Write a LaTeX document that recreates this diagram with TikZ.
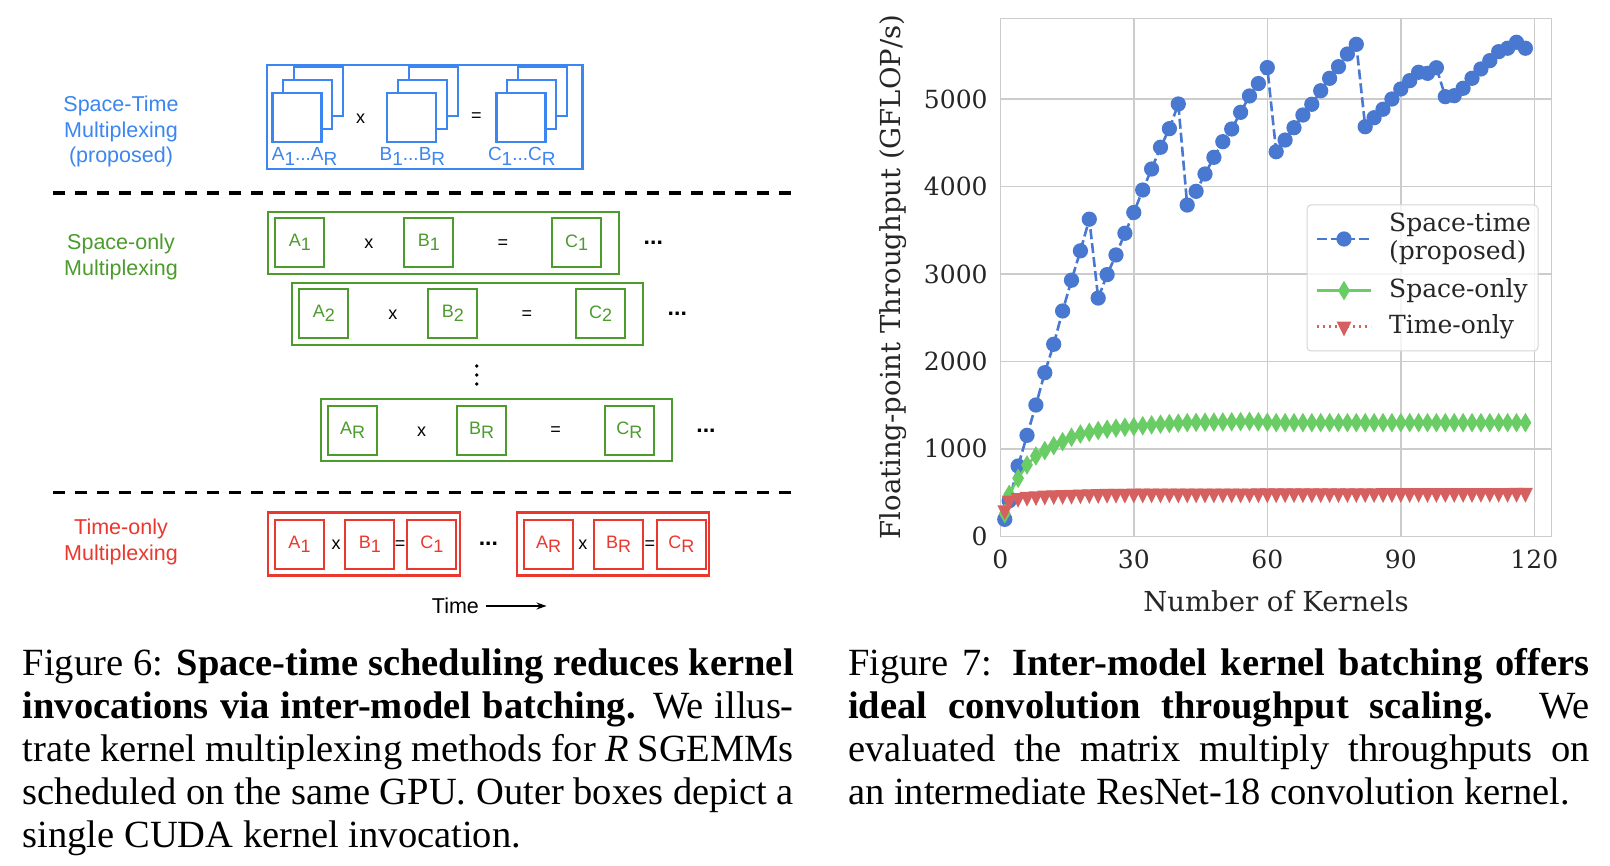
\documentclass[tikz,border=0pt]{standalone}
\usepackage{fontspec}
\setmainfont{Liberation Serif}
\setsansfont{Liberation Sans}
\newfontfamily\plotfont{DejaVu Serif}
\usetikzlibrary{arrows.meta}
\usetikzlibrary{plotmarks}

\definecolor{stblue}{RGB}{59,134,240}
\definecolor{sogreen}{RGB}{75,155,45}
\definecolor{tored}{RGB}{235,55,45}
\definecolor{pltblue}{HTML}{4878D0}
\definecolor{pltgreen}{HTML}{6ACC64}
\definecolor{pltred}{HTML}{D65F5F}
\definecolor{gridgray}{HTML}{CCCCCC}
\definecolor{txtgray}{HTML}{262626}

\newcommand{\lowsub}[1]{\raisebox{-0.22em}{#1}}

\tikzset{
  gemm/.style={draw, line width=2.2pt, minimum size=49pt, inner sep=0pt, font=\sffamily\fontsize{18}{18}\selectfont},
  opsign/.style={inner sep=0pt, font=\sffamily\fontsize{18}{18}\selectfont},
  dotsign/.style={inner sep=0pt, font=\sffamily\bfseries\fontsize{23}{23}\selectfont},
  sidelbl/.style={align=center, inner sep=2pt, font=\sffamily\fontsize{21.5}{25.7}\selectfont},
  divider/.style={line width=3.6pt, dash pattern=on 12pt off 10pt},
  gridline/.style={draw=gridgray, line width=1.6pt},
  ticklbl/.style={inner sep=0pt, text=txtgray, font=\plotfont\fontsize{25}{25}\selectfont},
  axlbl/.style={inner sep=0pt, text=txtgray, font=\plotfont\fontsize{27.5}{27.5}\selectfont},
  stline/.style={pltblue, line width=2.6pt, dash pattern=on 10pt off 4pt, mark=*, mark size=6.3pt,
    mark options={solid, fill=pltblue, draw=pltblue}},
  soline/.style={pltgreen, line width=2.4pt, mark=diamond*, mark size=7.5pt,
    mark options={solid, xscale=0.8, fill=pltgreen, draw=pltgreen}},
  toline/.style={pltred, line width=2.4pt, dash pattern=on 2.4pt off 3.6pt, mark=triangle*, mark size=6.3pt,
    mark options={solid, rotate=180, yscale=1.15, fill=pltred, draw=pltred}},
  capt/.style={inner sep=0pt, anchor=base west, align=justify, font=\fontsize{38.5}{43.1}\selectfont}
}

\begin{document}
\begin{tikzpicture}[x=1pt, y=-1pt]
  \fill[white] (0,0) rectangle (1610,866);
  \useasboundingbox (0,0) rectangle (1610,866);

  % space-time
  \node[sidelbl, text=stblue] (stlbl) at (121,131.5) {Space-Time\\Multiplexing\\(proposed)};
  \draw[stblue, line width=2.2pt] (266.7,65) rectangle (582.5,169);
  \foreach \cx/\lx/\n in {297/304.6/A, 411.8/412.4/B, 520.9/521.8/C} {
    \draw[stblue, line width=2.2pt, fill=white] (\cx-2.9,67.3) rectangle ++(49,49);
    \draw[stblue, line width=2.2pt, fill=white] (\cx-13.7,80) rectangle ++(49,49);
    \node[gemm, stblue, fill=white] (st\n) at (\cx,117.2) {};
    \node[opsign, text=stblue, anchor=base, font=\sffamily\fontsize{19}{19}\selectfont] (st\n lbl) at (\lx,161)
      {\n\lowsub{1}...\n\lowsub{R}};
  }
  \node[opsign] (stx) at (360.5,118.3) {x};
  \node[opsign] (steq) at (476.5,116.7) {=};

  \coordinate (d1a) at (53.4,193);
  \coordinate (d1b) at (792.7,193);
  \draw[divider] (d1a) -- (d1b);

  % space-only
  \node[sidelbl, text=sogreen] (solbl) at (121,256.7) {Space-only\\Multiplexing};
  \foreach \rx/\ry/\s in {268.3/211.7/1, 292.3/282.7/2, 321/399.3/R} {
    \draw[sogreen, line width=2.2pt] (\rx,\ry) rectangle ++(351,62);
    \node[gemm, sogreen] (A\s) at (\rx+31.5,\ry+31) {A\lowsub{\s}};
    \node[gemm, sogreen] (B\s) at (\rx+160.5,\ry+31) {B\lowsub{\s}};
    \node[gemm, sogreen] (C\s) at (\rx+308.3,\ry+31) {C\lowsub{\s}};
    \node[opsign] (x\s) at (\rx+100.5,\ry+32) {x};
    \node[opsign] (eq\s) at (\rx+234.5,\ry+32) {=};
    \node[dotsign] (dots\s) at (\rx+385,\ry+31) {...};
  }
  \foreach \vy in {366,375,384}
    \fill (476.7,\vy) circle (1.8pt);

  \coordinate (d2a) at (53.4,492.7);
  \coordinate (d2b) at (792.7,492.7);
  \draw[divider] (d2a) -- (d2b);

  % time-only
  \node[sidelbl, text=tored] (tolbl) at (121,542) {Time-only\\Multiplexing};
  \draw[tored, line width=2.2pt] (267.6,512.5) rectangle (460,575.5);
  \draw[tored, line width=2.2pt] (516.8,512.5) rectangle (709.3,575.5);
  \node[gemm, tored] (tA1) at (299.5,544.3) {A\lowsub{1}};
  \node[gemm, tored] (tB1) at (369.8,544.3) {B\lowsub{1}};
  \node[gemm, tored] (tC1) at (431.8,544.3) {C\lowsub{1}};
  \node[gemm, tored] (tAR) at (548.6,544.3) {A\lowsub{R}};
  \node[gemm, tored] (tBR) at (618.5,544.3) {B\lowsub{R}};
  \node[gemm, tored] (tCR) at (681.3,544.3) {C\lowsub{R}};
  \node[opsign] (tx1) at (336,545) {x};
  \node[opsign] (teq1) at (400.2,545) {=};
  \node[opsign] (txR) at (582.8,545) {x};
  \node[opsign] (teqR) at (649.8,545) {=};
  \node[dotsign] (tdots) at (488.4,544) {...};

  \node[sidelbl] (timelbl) at (455.4,606) {Time};
  \coordinate (tend) at (546.5,606);
  \draw[-{Stealth[length=10pt, width=7pt]}, line width=1.3pt] ([xshift=5pt]timelbl.east) -- (tend);

  % throughput plot
  \begin{scope}[xshift=1000.3pt, yshift=-536.3pt, x=4.45pt, y=0.0874pt]
    \foreach \gx in {0,30,...,120}
      \draw[gridline] (\gx,0) -- (\gx,5924);
    \foreach \gy in {0,1000,...,5000}
      \draw[gridline] (0,\gy) -- (123.85,\gy);
    \draw[gridline] (0,0) rectangle (123.85,5924);
    \foreach \gx in {0,30,...,120}
      \node[ticklbl, anchor=base, yshift=-32.4pt] (xt\gx) at (\gx,0) {\gx};
    \foreach \gy in {0,1000,...,5000}
      \node[ticklbl, anchor=east, xshift=-12.5pt] (yt\gy) at (0,\gy) {\gy};

    \draw[stline] plot coordinates {(1,194) (2,407) (4,804) (6,1155) (8,1502) (10,1872) (12,2197) (14,2578)
      (16,2930) (18,3266) (20,3628) (22,2726) (24,2994) (26,3219) (28,3467) (30,3705) (32,3962) (34,4202)
      (36,4451) (38,4664) (40,4946) (42,3790) (44,3947) (46,4145) (48,4336) (50,4515) (52,4660) (54,4851)
      (56,5038) (58,5180) (60,5363) (62,4400) (64,4534) (66,4675) (68,4820) (70,4943) (72,5098) (74,5240)
      (76,5373) (78,5518) (80,5629) (82,4686) (84,4789) (86,4886) (88,5003) (90,5118) (92,5213) (94,5309)
      (96,5297) (98,5361) (100,5030) (102,5041) (104,5126) (106,5240) (108,5347) (110,5442) (112,5545)
      (114,5584) (116,5652) (118,5584)};
    \draw[soline] plot coordinates {(1,260) (2,480) (4,664) (6,816) (8,919) (10,980) (12,1037) (14,1083)
      (16,1133) (18,1170) (20,1190) (22,1210) (24,1225) (26,1238) (28,1248) (30,1255) (32,1265) (34,1275)
      (36,1283) (38,1290) (40,1295) (42,1300) (44,1303) (46,1305) (48,1307) (50,1308) (52,1310) (54,1312)
      (56,1315) (58,1310) (60,1305)} -- plot[domain=62:118, samples=29] (\x,1300);
    \draw[toline] plot coordinates {(1,300) (2,410) (4,440) (6,452) (8,460) (10,466) (12,470) (14,474)
      (16,477) (18,480) (20,482) (22,484) (24,486) (26,487) (28,488)}
      -- plot[domain=30:118, samples=45] (\x,{489+0.1*(\x-30)});
  \end{scope}

  \node[axlbl, rotate=90] (ylab) at (893,277) {Floating-point Throughput (GFLOP/s)};
  \node[axlbl] (xlab) at (1276,601) {Number of Kernels};

  % legend
  \draw[draw=gridgray!80, fill=white, fill opacity=0.8, line width=1pt, rounded corners=4pt]
    (1307,205) rectangle (1538,351);
  \draw[stline, mark indices={2}] plot coordinates {(1317,239) (1344,239) (1371,239)};
  \draw[soline, mark indices={2}] plot coordinates {(1317,290.6) (1344,290.6) (1371,290.6)};
  \draw[toline, mark indices={2}] plot coordinates {(1317,326.5) (1344,326.5) (1371,326.5)};
  \node[ticklbl, anchor=west, align=left, font=\plotfont\fontsize{25}{28}\selectfont] (lgst) at (1389,239)
    {Space-time\\(proposed)};
  \node[ticklbl, anchor=west] (lgso) at (1389,290.6) {Space-only};
  \node[ticklbl, anchor=west] (lgto) at (1389,326.5) {Time-only};

  % captions
  \node[capt, text width=771pt] (cap6) at (22.6,675) {Figure 6: \textbf{Space-time scheduling reduces kernel}\linebreak
    \textbf{invocations via inter-model batching.} We illus-\linebreak
    trate kernel multiplexing methods for \textit{R} SGEMMs\linebreak
    scheduled on the same GPU. Outer boxes depict a\linebreak
    single CUDA kernel invocation.};
  \node[capt, text width=741.5pt] (cap7) at (848,675) {Figure 7: \textbf{Inter-model kernel batching offers}\linebreak
    \textbf{ideal convolution throughput scaling.} We\linebreak
    evaluated the matrix multiply throughputs on\linebreak
    an intermediate ResNet-18 convolution kernel.};
\end{tikzpicture}
\end{document}
